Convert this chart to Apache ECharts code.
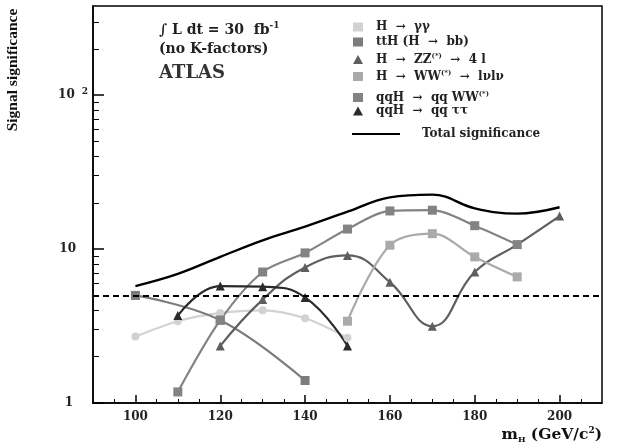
<!DOCTYPE html>
<html>
<head>
<meta charset="utf-8">
<script src="https://cdn.jsdelivr.net/npm/echarts@6/dist/echarts.min.js"></script>
<style>
  html, body { margin: 0; padding: 0; background: #fff; }
  #chart { width: 617px; height: 447px; }
</style>
</head>
<body>
<div id="chart"></div>
<script>
// masses (GeV/c^2)
const massGG = [100, 110, 120, 130, 140, 150];
const sigGG = [2.7, 3.4, 3.85, 4.0, 3.55, 2.65];

const massTTH = [100, 120, 140];
const sigTTH = [5.0, 3.45, 1.4];

const massZZ = [120, 130, 140, 150, 160, 170, 180, 190, 200];
const sigZZ = [2.35, 4.7, 7.6, 9.1, 6.1, 3.15, 7.1, 10.7, 16.4];

const massWW = [150, 160, 170, 180, 190];
const sigWW = [3.4, 10.6, 12.6, 8.9, 6.6];

const massQQWW = [110, 120, 130, 140, 150, 160, 170, 180, 190];
const sigQQWW = [1.18, 3.45, 7.1, 9.45, 13.5, 17.7, 17.9, 14.2, 10.7];

const massTauTau = [110, 120, 130, 140, 150];
const sigTauTau = [3.7, 5.75, 5.7, 4.85, 2.35];

const massTotal = [100, 110, 120, 130, 140, 150, 160, 170, 180, 190, 200];
const sigTotal = [5.75, 6.9, 8.9, 11.4, 14.0, 17.5, 21.7, 22.6, 18.4, 17.0, 18.7];

const discovery = 5;

const xMajor = [100, 120, 140, 160, 180, 200];
const xMinor = [95, 105, 110, 115, 125, 130, 135, 145, 150, 155, 165, 170, 175, 185, 190, 195, 205];
const yMajor = [1, 10, 100];
const yMinor = [2, 3, 4, 5, 6, 7, 8, 9, 20, 30, 40, 50, 60, 70, 80, 90, 200, 300];

const pairs = (xs, ys) => xs.map((x, i) => [x, ys[i]]);

const serif = '"DejaVu Serif", "Liberation Serif", serif';
const times = '"Liberation Serif", serif';
let chart = echarts.init(document.getElementById('chart'));

function line(name, xs, ys, color, symbol, size, smooth) {
  return {
    name: name,
    type: 'line',
    data: pairs(xs, ys),
    smooth: smooth,
    symbol: symbol,
    symbolSize: size,
    showSymbol: true,
    lineStyle: { color: color, width: 2.2 },
    itemStyle: { color: color },
    z: 3
  };
}

let sup = { fontSize: 7, fontWeight: 'bold', fontFamily: serif, verticalAlign: 'top', padding: [0, 0, 6, 0], color: '#222' };

// one legend per row, the rows are not evenly spaced
function legendRow(name, icon, top, text) {
  return {
    left: 348, top: top,
    itemWidth: 10, itemHeight: 9, itemGap: 0,
    data: [{ name: name, icon: icon }],
    textStyle: { fontFamily: serif, fontWeight: 'bold', fontSize: 12, color: '#222', padding: [0, 0, 0, 8], rich: { s: sup } },
    formatter: function () { return text; }
  };
}

let option = {
  backgroundColor: '#fff',
  animation: false,
  grid: {
    left: 93, right: 15, top: 6, bottom: 44,
    outerBoundsMode: 'none',
    show: true, borderColor: '#000', borderWidth: 1.5
  },
  legend: [
    legendRow('gg', 'rect', 16, 'H  →  γγ'),
    legendRow('tth', 'rect', 31, 'ttH (H  →  bb)'),
    legendRow('zz', 'triangle', 48, 'H  →  ZZ{s|(*)}  →  4 l'),
    legendRow('ww', 'rect', 65, 'H  →  WW{s|(*)}  →  lνlν'),
    legendRow('qqww', 'rect', 86, 'qqH  →  qq WW{s|(*)}'),
    legendRow('qqtt', 'triangle', 100, 'qqH  →  qq ττ'),
    {
      left: 347, top: 123,
      itemWidth: 48, itemHeight: 2,
      data: [{ name: 'total', icon: 'rect' }],
      textStyle: { fontFamily: serif, fontWeight: 'bold', fontSize: 12, color: '#222', padding: [0, 0, 0, 17] },
      formatter: function () { return 'Total significance'; }
    }
  ],
  xAxis: [{
    type: 'value', min: 90, max: 210,
    name: '{b|m}{sub|H}{b| (GeV/c}{sup|2}{b|)}',
    nameLocation: 'end', nameGap: 0,
    nameTextStyle: {
      align: 'right', verticalAlign: 'top', padding: [23, 0, 0, 0],
      rich: {
        b: { fontFamily: serif, fontWeight: 'bold', fontSize: 15.5, color: '#111' },
        sub: { fontFamily: serif, fontWeight: 'bold', fontSize: 8, color: '#111', verticalAlign: 'bottom', padding: [8, 0, 0, 0] },
        sup: { fontFamily: serif, fontWeight: 'bold', fontSize: 9, color: '#111', verticalAlign: 'top', padding: [0, 0, 9, 0] }
      }
    },
    axisLine: { lineStyle: { color: '#000', width: 1.5 } },
    axisTick: { inside: true, length: 8, customValues: xMajor, lineStyle: { color: '#000', width: 1.5 } },
    axisLabel: { customValues: xMajor, fontFamily: serif, fontWeight: 'bold', fontSize: 12, color: '#222', margin: 8 },
    splitLine: { show: false }
  }, {
    type: 'value', min: 90, max: 210, position: 'bottom',
    axisLine: { show: false },
    axisTick: { inside: true, length: 4, customValues: xMinor, lineStyle: { color: '#000', width: 1 } },
    axisLabel: { show: false },
    splitLine: { show: false }
  }],
  yAxis: [{
    type: 'log', min: 1, max: 380, logBase: 10,
    axisLine: { show: true, lineStyle: { color: '#000', width: 1.5 } },
    axisTick: { inside: true, length: 11, customValues: yMajor, lineStyle: { color: '#000', width: 1.5 } },
    axisLabel: {
      customValues: yMajor, fontFamily: serif, fontWeight: 'bold', fontSize: 12, color: '#222', margin: 5,
      formatter: function (v) {
        if (v >= 100) return '10{s|2}';
        if (v >= 10) return '10{p|}';
        return '1{q|}';
      },
      rich: {
        s: { fontSize: 9, fontWeight: 'bold', fontFamily: serif, color: '#222', verticalAlign: 'top', padding: [0, 0, 8, 7] },
        p: { width: 12 },
        q: { width: 15 }
      }
    },
    splitLine: { show: false }
  }, {
    type: 'log', min: 1, max: 380, logBase: 10, position: 'left',
    axisLine: { show: false },
    axisTick: { show: true, inside: true, length: 6, customValues: yMinor, lineStyle: { color: '#000', width: 1 } },
    axisLabel: { show: false },
    splitLine: { show: false }
  }],
  graphic: [{
    type: 'text', x: 13, y: 70, rotation: Math.PI / 2,
    style: {
      text: 'Signal significance', fontFamily: times, fontWeight: 'bold', fontSize: 15.5, fill: '#111',
      align: 'center', verticalAlign: 'middle'
    }
  }, {
    type: 'text', left: 159, top: 21,
    style: {
      text: '∫ L dt = 30  fb{s|-1}\n(no K-factors)',
      fontFamily: serif, fontWeight: 'bold', fontSize: 14, fill: '#222', lineHeight: 19,
      rich: { s: { fontFamily: serif, fontWeight: 'bold', fontSize: 9, fill: '#222', verticalAlign: 'top', padding: [0, 0, 6, 0] } }
    }
  }, {
    type: 'text', left: 159, top: 64,
    style: { text: 'ATLAS', fontFamily: serif, fontWeight: 'bold', fontSize: 18, fill: '#333' }
  }],
  series: [
    line('gg', massGG, sigGG, '#d2d2d2', 'circle', 8, 0.3),
    line('tth', massTTH, sigTTH, '#7c7c7c', 'rect', 9, 0.4),
    line('zz', massZZ, sigZZ, '#5e5e5e', 'triangle', 9, 0.45),
    line('ww', massWW, sigWW, '#aaaaaa', 'rect', 9, 0.35),
    line('qqww', massQQWW, sigQQWW, '#838383', 'rect', 9, 0.3),
    line('qqtt', massTauTau, sigTauTau, '#2a2a2a', 'triangle', 9, 0.45),
    {
      name: 'total',
      type: 'line',
      data: pairs(massTotal, sigTotal),
      smooth: 0.4,
      symbol: 'none',
      lineStyle: { color: '#000', width: 2.4 },
      itemStyle: { color: '#000' },
      z: 4,
      markLine: {
        silent: true,
        symbol: 'none',
        label: { show: false },
        lineStyle: { color: '#000', type: [6, 4], width: 2 },
        data: [{ yAxis: discovery }]
      }
    }
  ]
};

chart.setOption(option);
</script>
</body>
</html>
